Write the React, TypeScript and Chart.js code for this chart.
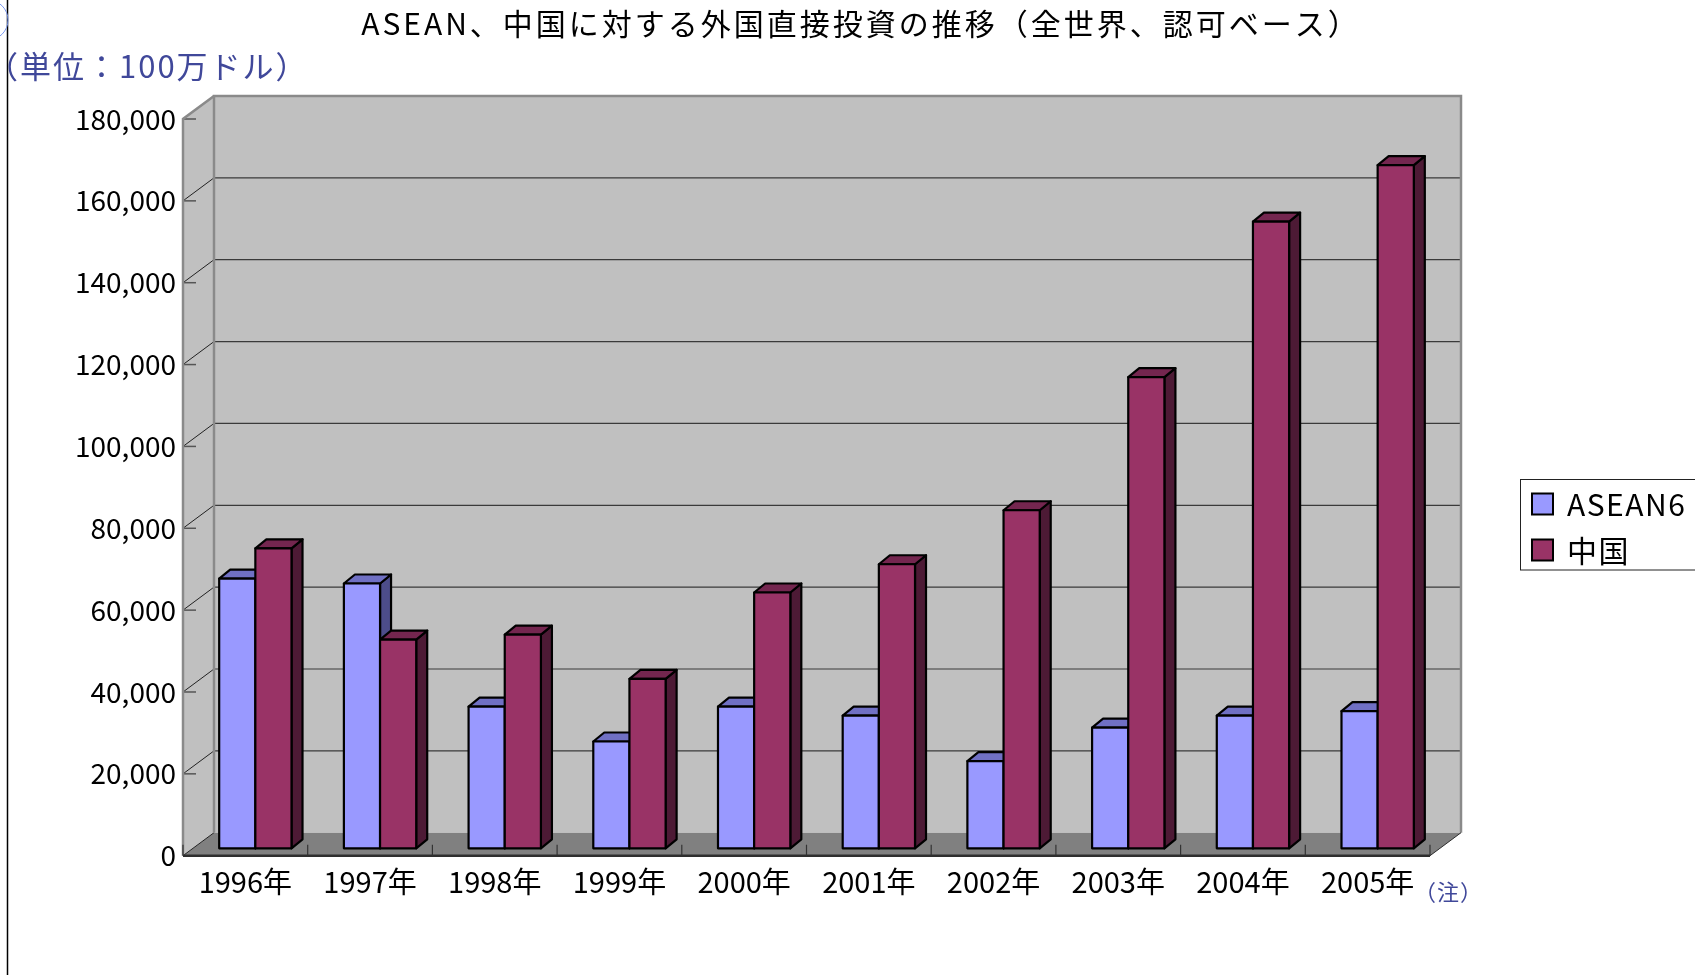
import React, { useEffect, useRef } from "react";
import { Chart, registerables } from "chart.js";

Chart.register(...registerables);

const categories = ["1996年", "1997年", "1998年", "1999年", "2000年", "2001年", "2002年", "2003年", "2004年", "2005年"];
const seriesNames = ["ASEAN6", "中国"];
const aseanValues = [65900, 64700, 34600, 26100, 34600, 32400, 21300, 29500, 32400, 33500];
const chinaValues = [73300, 51000, 52200, 41400, 62500, 69400, 82600, 115100, 153100, 166900];
const yTickValues = [0, 20000, 40000, 60000, 80000, 100000, 120000, 140000, 160000, 180000];
const titleText = "ASEAN、中国に対する外国直接投資の推移（全世界、認可ベース）";
const unitText = "（単位：100万ドル）";
const noteText = "（注）";

const FONT = '"Noto Sans CJK JP", "Noto Sans", sans-serif';
const frontColors = ["#9999FF", "#993366"];
const topColors = ["#7070C4", "#74264F"];
const sideColors = ["#4D4D8A", "#4D1A35"];

// depth offsets
const BAR_DX = 10;
const BAR_DY = -7.4;
const BACK_DX = 31;
const BACK_DY = -23;
const CUBE_DX = 11;
const CUBE_DY = -9;

const scene3d = {
  id: "scene3d",
  beforeDatasetsDraw(chart: any) {
    const ctx = chart.ctx as CanvasRenderingContext2D;
    const xs = chart.scales.x;
    const ys = chart.scales.y;
    const fL = chart.chartArea.left - BAR_DX;
    const fR = chart.chartArea.right - BAR_DX;
    const fy = (v: number) => ys.getPixelForValue(v) - BAR_DY;
    const by = (v: number) => fy(v) + BACK_DY;
    const bL = fL + BACK_DX;
    const bR = fR + BACK_DX;
    const vMax = yTickValues[yTickValues.length - 1];
    ctx.save();
    // back wall
    ctx.fillStyle = "#C0C0C0";
    ctx.fillRect(bL, by(vMax), bR - bL, by(0) - by(vMax));
    // side wall
    ctx.beginPath();
    ctx.moveTo(fL, fy(vMax));
    ctx.lineTo(bL, by(vMax));
    ctx.lineTo(bL, by(0));
    ctx.lineTo(fL, fy(0));
    ctx.closePath();
    ctx.fill();
    // floor
    ctx.fillStyle = "#808080";
    ctx.beginPath();
    ctx.moveTo(fL, fy(0));
    ctx.lineTo(bL, by(0));
    ctx.lineTo(bR, by(0));
    ctx.lineTo(fR, fy(0));
    ctx.closePath();
    ctx.fill();
    // gridlines on back wall + diagonals on side wall
    for (const v of yTickValues) {
      if (v === 0 || v === vMax) continue;
      ctx.strokeStyle = "#3A3A3A";
      ctx.lineWidth = 1.2;
      ctx.beginPath();
      ctx.moveTo(bL, by(v));
      ctx.lineTo(bR, by(v));
      ctx.stroke();
    }
    for (const v of yTickValues) {
      ctx.strokeStyle = "#222";
      ctx.lineWidth = 1;
      ctx.beginPath();
      ctx.moveTo(fL, fy(v));
      ctx.lineTo(bL, by(v));
      ctx.stroke();
      ctx.strokeStyle = "#555";
      ctx.lineWidth = 1.5;
      ctx.beginPath();
      ctx.moveTo(fL, fy(v));
      ctx.lineTo(fL + 13, fy(v));
      ctx.stroke();
    }
    // wall edges
    ctx.strokeStyle = "#8A8A8A";
    ctx.lineWidth = 2.5;
    ctx.beginPath();
    ctx.moveTo(bL, by(0));
    ctx.lineTo(bL, by(vMax));
    ctx.lineTo(bR, by(vMax));
    ctx.lineTo(bR, by(0));
    ctx.stroke();
    ctx.beginPath();
    ctx.moveTo(fL, fy(0));
    ctx.lineTo(fL, fy(vMax));
    ctx.lineTo(bL, by(vMax));
    ctx.stroke();
    // floor edges
    ctx.strokeStyle = "#2E2E2E";
    ctx.lineWidth = 2.5;
    ctx.beginPath();
    ctx.moveTo(fL, fy(0));
    ctx.lineTo(fR, fy(0));
    ctx.stroke();
    ctx.lineWidth = 1;
    ctx.beginPath();
    ctx.moveTo(fR, fy(0));
    ctx.lineTo(bR, by(0));
    ctx.stroke();
    // category tick marks on floor front edge
    ctx.strokeStyle = "#333";
    ctx.lineWidth = 1.2;
    const n = categories.length;
    for (let i = 0; i <= n; i++) {
      let xb: number;
      if (i === 0) xb = fL;
      else if (i === n) xb = fR;
      else xb = (xs.getPixelForValue(i - 1) + xs.getPixelForValue(i)) / 2 - BAR_DX;
      ctx.beginPath();
      ctx.moveTo(xb, fy(0));
      ctx.lineTo(xb, fy(0) - 11);
      ctx.stroke();
    }
    // cuboid bars
    const metas = chart.data.datasets.map((_: any, d: number) => chart.getDatasetMeta(d));
    ctx.lineJoin = "round";
    ctx.lineWidth = 2.2;
    ctx.strokeStyle = "#000";
    for (let i = 0; i < n; i++) {
      for (let d = 0; d < metas.length; d++) {
        const el = metas[d].data[i];
        const p = el.getProps(["x", "y", "base", "width"], true);
        const l = p.x - p.width / 2;
        const r = p.x + p.width / 2;
        const t = p.y;
        const b = p.base;
        // side
        ctx.fillStyle = sideColors[d];
        ctx.beginPath();
        ctx.moveTo(r, t);
        ctx.lineTo(r + CUBE_DX, t + CUBE_DY);
        ctx.lineTo(r + CUBE_DX, b + CUBE_DY);
        ctx.lineTo(r, b);
        ctx.closePath();
        ctx.fill();
        ctx.stroke();
        // top
        ctx.fillStyle = topColors[d];
        ctx.beginPath();
        ctx.moveTo(l, t);
        ctx.lineTo(l + CUBE_DX, t + CUBE_DY);
        ctx.lineTo(r + CUBE_DX, t + CUBE_DY);
        ctx.lineTo(r, t);
        ctx.closePath();
        ctx.fill();
        ctx.stroke();
        // front
        ctx.fillStyle = frontColors[d];
        ctx.beginPath();
        ctx.rect(l, t, r - l, b - t);
        ctx.fill();
        ctx.stroke();
      }
    }
    ctx.restore();
    return false;
  },
  afterDraw(chart: any) {
    const ctx = chart.ctx as CanvasRenderingContext2D;
    ctx.save();
    // left frame line
    ctx.strokeStyle = "#000";
    ctx.lineWidth = 1.5;
    ctx.beginPath();
    ctx.moveTo(7.5, 0);
    ctx.lineTo(7.5, 975);
    ctx.stroke();
    ctx.strokeStyle = "#7C9AF0";
    ctx.lineWidth = 1;
    ctx.beginPath();
    ctx.arc(-12, 20, 20, -Math.PI / 2, Math.PI / 2);
    ctx.stroke();
    // title
    ctx.fillStyle = "#000";
    ctx.font = `30px ${FONT}`;
    (ctx as any).letterSpacing = "3px";
    ctx.textAlign = "center";
    ctx.textBaseline = "middle";
    ctx.fillText(titleText, 861, 24);
    // unit label
    ctx.fillStyle = "#40489A";
    ctx.font = `31px ${FONT}`;
    (ctx as any).letterSpacing = "2px";
    ctx.textAlign = "left";
    ctx.fillText(unitText, -13, 66);
    // note label
    ctx.font = `22px ${FONT}`;
    (ctx as any).letterSpacing = "1px";
    ctx.fillText(noteText, 1414, 892);
    // legend
    (ctx as any).letterSpacing = "0px";
    ctx.fillStyle = "#FFF";
    ctx.fillRect(1520.5, 479.5, 200, 90.5);
    ctx.strokeStyle = "#222";
    ctx.lineWidth = 1;
    ctx.strokeRect(1520.5, 479.5, 200, 90.5);
    ctx.font = `30px ${FONT}`;
    (ctx as any).letterSpacing = "1.5px";
    ctx.textBaseline = "middle";
    const items = chart.data.datasets;
    for (let d = 0; d < items.length; d++) {
      const yc = 504 + d * 46;
      ctx.fillStyle = frontColors[d];
      ctx.fillRect(1532, yc - 10.5, 21, 21);
      ctx.strokeStyle = "#000";
      ctx.lineWidth = 2;
      ctx.strokeRect(1532, yc - 10.5, 21, 21);
      ctx.fillStyle = "#000";
      ctx.fillText(items[d].label, 1567, yc + 1);
    }
    (ctx as any).letterSpacing = "0px";
    ctx.restore();
  },
};

export default function App() {
  const ref = useRef<HTMLCanvasElement | null>(null);
  useEffect(() => {
    document.body.style.margin = "0";
    const canvas = ref.current!;
    const chart = new Chart(canvas, {
      type: "bar",
      data: {
        labels: categories,
        datasets: [
          { label: seriesNames[0], data: aseanValues, backgroundColor: frontColors[0], borderColor: "#000", borderWidth: 2 },
          { label: seriesNames[1], data: chinaValues, backgroundColor: frontColors[1], borderColor: "#000", borderWidth: 2 },
        ],
      },
      options: {
        responsive: false,
        animation: false,
        devicePixelRatio: 1,
        layout: { padding: { top: 111.6, right: 255, bottom: 0, left: 0 } },
        datasets: { bar: { categoryPercentage: 0.58, barPercentage: 1 } },
        plugins: { legend: { display: false }, title: { display: false }, tooltip: { enabled: false } },
        scales: {
          x: {
            grid: { display: false, drawTicks: false },
            border: { display: false },
            ticks: { font: { family: FONT, size: 29 }, color: "#000", padding: 16, labelOffset: -BAR_DX, maxRotation: 0, autoSkip: false },
            afterFit: (s: any) => { s.height = 975 - 848.3; },
          },
          y: {
            min: 0,
            max: 180000,
            grid: { display: false, drawTicks: false },
            border: { display: false },
            ticks: {
              stepSize: 20000,
              font: { family: FONT, size: 28 },
              color: "#000",
              padding: 17,
              labelOffset: -BAR_DY,
              callback: (v: any) => Number(v).toLocaleString("en-US"),
            },
            afterFit: (s: any) => { s.width = 193; },
          },
        },
      },
      plugins: [scene3d],
    });
    return () => chart.destroy();
  }, []);
  return (
    <div style={{ width: 1695, height: 975, position: "relative", background: "#fff" }}>
      <canvas ref={ref} width={1695} height={975} style={{ display: "block" }} />
    </div>
  );
}
